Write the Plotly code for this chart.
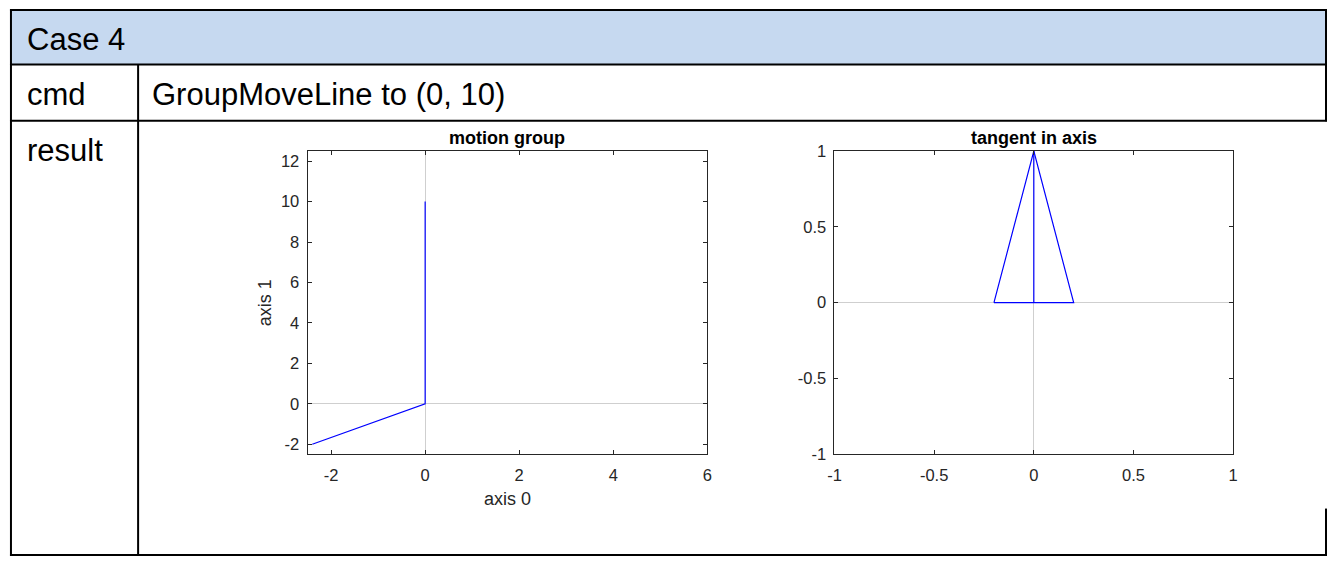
import plotly.graph_objects as go

W, H = 1332, 565

# ---- data ----
group_x = [-2.4, 0, 0]
group_y = [-2, 0, 10]
tri_x = [-0.2, 0, 0.2, -0.2]
tri_y = [0, 1, 0, 0]
axis_line_x = [0, 0]
axis_line_y = [0, 1]
left_xticks = [-2, 0, 2, 4, 6]
left_xticklabels = ["-2", "0", "2", "4", "6"]
left_yticks = [-2, 0, 2, 4, 6, 8, 10, 12]
left_yticklabels = ["-2", "0", "2", "4", "6", "8", "10", "12"]
right_ticks = [-1, -0.5, 0, 0.5, 1]
right_ticklabels = ["-1", "-0.5", "0", "0.5", "1"]

def px(x):
    return x / W

def py(y):
    return 1 - y / H

FONT = "Liberation Sans, Arial, sans-serif"
AX = "#262626"
BLUE = "rgb(0,0,255)"

fig = go.Figure()
fig.add_trace(go.Scatter(x=group_x, y=group_y, mode="lines",
                         line=dict(color=BLUE, width=1.2), xaxis="x", yaxis="y",
                         showlegend=False, hoverinfo="skip"))
fig.add_trace(go.Scatter(x=tri_x, y=tri_y, mode="lines",
                         line=dict(color=BLUE, width=1.2), xaxis="x2", yaxis="y2",
                         showlegend=False, hoverinfo="skip"))
fig.add_trace(go.Scatter(x=axis_line_x, y=axis_line_y, mode="lines",
                         line=dict(color=BLUE, width=1.2), xaxis="x2", yaxis="y2",
                         showlegend=False, hoverinfo="skip"))

common = dict(showline=True, linecolor=AX, linewidth=1, mirror="ticks",
              ticks="inside", ticklen=4, tickcolor=AX, tickwidth=1,
              showgrid=False, zeroline=True, zerolinecolor="#cfcfcf",
              zerolinewidth=1, tickfont=dict(family=FONT, size=16.5, color=AX),
              fixedrange=True)

ydom = [py(460), py(146.7)]
fig.update_layout(
    width=W, height=H,
    margin=dict(l=0, r=0, t=0, b=0),
    paper_bgcolor="white", plot_bgcolor="white",
    xaxis=dict(domain=[px(303.3), px(706.7)], range=[-2.5, 6], tickvals=left_xticks,
               ticktext=left_xticklabels, ticklabelstandoff=6,
               anchor="y", title=dict(text="axis 0", font=dict(family=FONT, size=18, color=AX), standoff=9),
               **common),
    yaxis=dict(domain=ydom, range=[-2.5, 12.5], tickvals=left_yticks,
               ticktext=left_yticklabels, ticklabelstandoff=4, anchor="x",
               title=dict(text="axis 1", font=dict(family=FONT, size=18, color=AX), standoff=4),
               **common),
    xaxis2=dict(domain=[px(835), px(1237.3)], range=[-1, 1], tickvals=right_ticks,
                ticktext=right_ticklabels, ticklabelstandoff=6, anchor="y2", **common),
    yaxis2=dict(domain=ydom, range=[-1, 1], tickvals=right_ticks,
                ticktext=right_ticklabels, ticklabelstandoff=4, anchor="x2", **common),
)

shapes = []
# header fill
shapes.append(dict(type="rect", xref="paper", yref="paper", x0=px(3), x1=px(1331),
                   y0=py(57), y1=py(1), fillcolor="#C6D9F0", line=dict(width=0), layer="below"))
def hline(y, x0, x1):
    shapes.append(dict(type="line", xref="paper", yref="paper", x0=px(x0), x1=px(x1),
                       y0=py(y), y1=py(y), line=dict(color="black", width=2)))
def vline(x, y0, y1):
    shapes.append(dict(type="line", xref="paper", yref="paper", x0=px(x), x1=px(x),
                       y0=py(y0), y1=py(y1), line=dict(color="black", width=2)))
hline(1, 3, 1332)
hline(57.3, 3, 1332)
hline(115.5, 3, 1332)
hline(564, 3, 1332)
vline(4, 0, 565)
vline(132.3, 57, 565)
vline(1331, 0, 116)
vline(1331, 516, 565)
fig.update_layout(shapes=shapes)

ann = []
def txt(text, x, y, size=31, bold=False, color="black", xanchor="left"):
    ann.append(dict(text=("<b>%s</b>" % text) if bold else text, xref="paper", yref="paper",
                    x=px(x), y=py(y), xanchor=xanchor, yanchor="middle", showarrow=False,
                    font=dict(family=FONT, size=size, color=color)))
txt("Case 4", 18, 31)
txt("cmd", 18, 88)
txt("GroupMoveLine to (0, 10)", 144, 88)
txt("result", 18, 146)
txt("motion group", 505, 133, size=18, bold=True, color="black", xanchor="center")
txt("tangent in axis", 1036, 133, size=18, bold=True, color="black", xanchor="center")
fig.update_layout(annotations=ann)

post = (
    "document.documentElement.style.margin='0';"
    "document.body.style.margin='0';document.body.style.padding='0';"
    "document.body.style.overflow='hidden';"
    "var gd=document.getElementById('{plot_id}');"
    "gd.style.position='fixed';gd.style.left='0px';gd.style.top='0px';"
)
fig.write_html("out.html", config={"displayModeBar": False, "staticPlot": True},
               post_script=post)
